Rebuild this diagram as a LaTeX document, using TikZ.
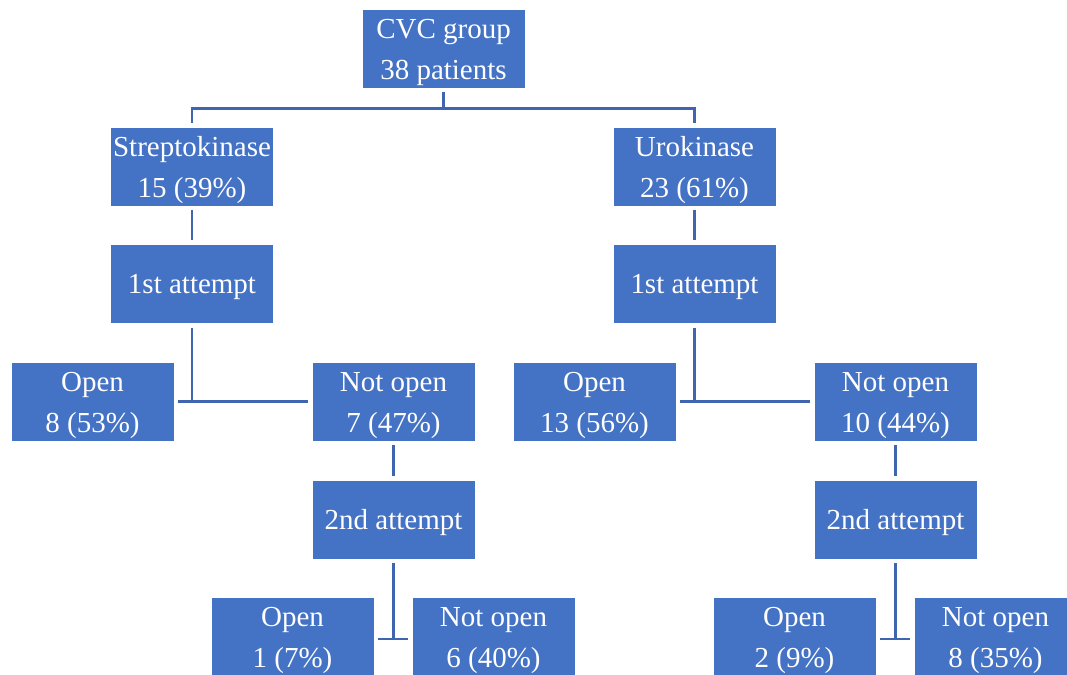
\documentclass[tikz,border=0pt]{standalone}
\usepackage{fontspec}
\setmainfont{Liberation Serif}
\usepackage{tikz}
\usetikzlibrary{positioning,calc}
\definecolor{boxblue}{HTML}{4472C4}
\definecolor{linkblue}{HTML}{3F65B0}

\begin{document}
\begin{tikzpicture}[
  x=0.02cm, y=-0.02cm,
  box/.style={draw=white, line width=0.5pt, fill=boxblue, text=white,
    minimum width=3.26cm, minimum height=1.58cm, inner sep=0pt,
    outer sep=2.5pt, align=center, font=\fontsize{16.5}{23.4}\selectfont,
    execute at begin node={\rule{0pt}{#1}}},
  box/.default=14.8pt,
  link/.style={draw=linkblue, line width=1.5pt}
]
  \useasboundingbox (0,0) rectangle (1067,675);

  % top levels
  \node[box=38.6pt] (cvc) at (443.5,48.5) {CVC group\\38 patients};
  \node[box=38.6pt] (strep) at (192,166.5) {Streptokinase\\15 (39\%)};
  \node[box=38.6pt] (uro) at (694.5,166.5) {Urokinase\\23 (61\%)};

  \node[box] (att1l) at (192,284) {1st attempt};
  \node[box] (att1r) at (694.5,284) {1st attempt};

  % results of first attempt
  \node[box=38.6pt] (openl) at (92.5,401.5) {Open\\8 (53\%)};
  \node[box=38.6pt] (notl) at (393.5,401.5) {Not open\\7 (47\%)};
  \node[box=38.6pt] (openr) at (594.5,401.5) {Open\\13 (56\%)};
  \node[box=38.6pt] (notr) at (895.5,401.5) {Not open\\10 (44\%)};

  \node[box] (att2l) at (393.5,519.5) {2nd attempt};
  \node[box] (att2r) at (895.5,519.5) {2nd attempt};

  % results of second attempt
  \node[box=38.6pt] (open2l) at (292.5,636.5) {Open\\1 (7\%)};
  \node[box=38.6pt] (not2l) at (493.5,636.5) {Not open\\6 (40\%)};
  \node[box=38.6pt] (open2r) at (794.5,636.5) {Open\\2 (9\%)};
  \node[box=38.6pt] (not2r) at (995.5,636.5) {Not open\\8 (35\%)};

  % connectors
  \draw[link] (cvc.south) -- ++(0,16) -| (strep.north);
  \draw[link] (cvc.south) ++(0,16) -| (uro.north);
  \draw[link] (strep) -- (att1l);
  \draw[link] (uro) -- (att1r);

  \draw[link] (att1l.south) |- (openl.east);
  \draw[link] (att1l.south) |- (notl.west);
  \draw[link] (att1r.south) |- (openr.east);
  \draw[link] (att1r.south) |- (notr.west);

  \draw[link] (notl) -- (att2l);
  \draw[link] (notr) -- (att2r);

  \draw[link] (att2l.south) |- ([yshift=-1.5]open2l.east);
  \draw[link] (att2l.south) |- ([yshift=-1.5]not2l.west);
  \draw[link] (att2r.south) |- ([yshift=-1.5]open2r.east);
  \draw[link] (att2r.south) |- ([yshift=-1.5]not2r.west);
\end{tikzpicture}
\end{document}
